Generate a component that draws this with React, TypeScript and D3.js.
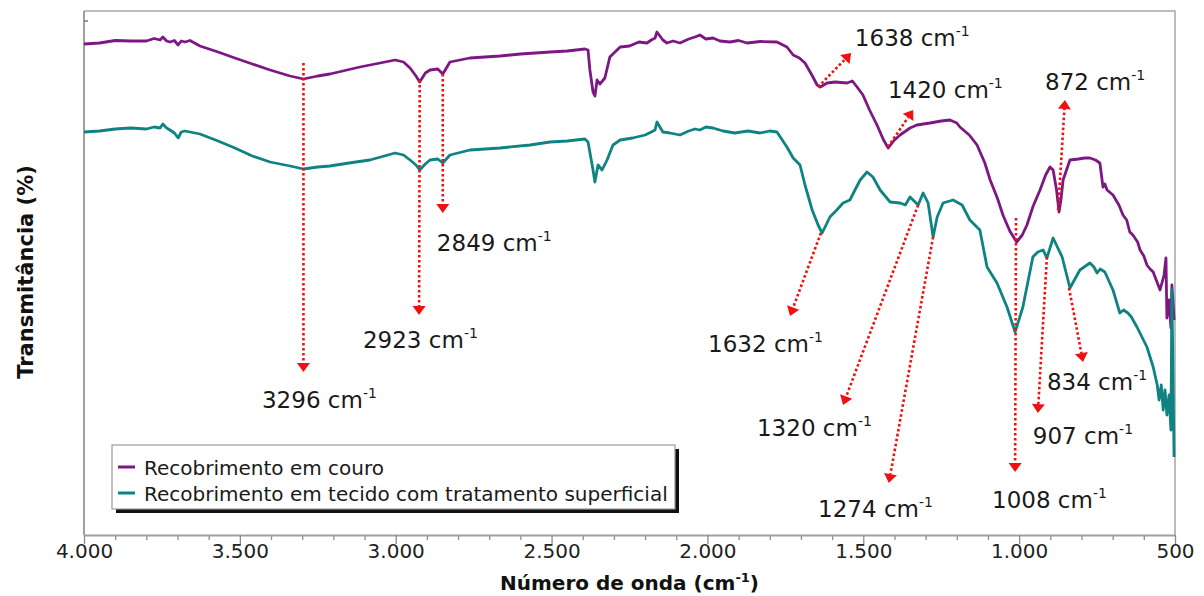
import React, { useRef, useEffect } from "react";
import * as d3 from "d3";

// FTIR spectra: [wavenumber (cm-1), transmittance]
const couroSpectrum: [number, number][] = [
  [4000, 98.2], [3950, 98.4], [3900, 98.9], [3850, 98.8], [3800, 98.8], [3775, 99.3],
  [3756, 99.0], [3747, 99.6], [3735, 98.8], [3724, 98.6], [3710, 98.9], [3698, 98.0],
  [3688, 98.8], [3676, 98.6], [3660, 98.9], [3628, 97.8], [3570, 96.6], [3516, 95.4],
  [3460, 94.2], [3403, 93.0], [3339, 91.8], [3296, 91.2], [3250, 91.8], [3211, 92.2],
  [3115, 93.6], [3050, 94.4], [3002, 95.0], [2975, 94.6], [2954, 93.4], [2935, 91.8],
  [2923, 90.6], [2905, 92.4], [2890, 93.0], [2865, 93.2], [2849, 92.2], [2826, 94.6],
  [2762, 95.4], [2665, 95.8], [2600, 96.2], [2505, 96.6], [2450, 96.8], [2393, 97.2],
  [2383, 97.0], [2377, 93.0], [2367, 88.6], [2361, 87.8], [2354, 91.0], [2345, 90.2],
  [2329, 91.4], [2313, 95.6], [2280, 97.6], [2250, 97.8], [2220, 98.6], [2194, 98.4],
  [2180, 99.0], [2168, 99.4], [2162, 100.6], [2143, 99.0], [2130, 98.4], [2110, 98.8],
  [2088, 98.4], [2060, 99.2], [2040, 99.6], [2024, 100.0], [2005, 99.2], [1982, 99.4],
  [1960, 98.8], [1928, 98.6], [1900, 98.9], [1873, 98.4], [1830, 98.7], [1777, 98.6],
  [1745, 97.6], [1725, 96.0], [1705, 95.4], [1687, 94.4], [1665, 92.0], [1648, 90.0],
  [1638, 89.6], [1616, 90.4], [1590, 90.6], [1552, 90.4], [1535, 90.8], [1520, 89.6],
  [1501, 88.0], [1480, 85.0], [1456, 82.0], [1435, 79.0], [1420, 77.4], [1400, 79.0],
  [1382, 80.0], [1350, 81.4], [1328, 82.0], [1286, 82.4], [1250, 82.8], [1222, 83.0],
  [1200, 82.4], [1190, 81.6], [1160, 80.0], [1135, 78.0], [1110, 74.4], [1093, 71.0],
  [1070, 67.4], [1052, 64.0], [1030, 60.8], [1008, 58.6], [990, 60.0], [975, 62.0],
  [955, 65.8], [933, 69.0], [915, 72.0], [901, 73.6], [891, 73.0], [880, 69.0],
  [872, 64.6], [866, 67.0], [859, 71.0], [837, 75.0], [810, 75.2], [790, 75.4],
  [773, 75.4], [755, 75.0], [741, 74.4], [731, 69.6], [725, 70.2], [718, 69.0],
  [699, 68.0], [680, 66.0], [667, 64.0], [655, 63.0], [645, 60.6], [635, 60.0],
  [620, 58.6], [612, 57.0], [600, 55.8], [590, 54.0], [580, 53.2], [570, 52.6],
  [548, 49.0], [535, 52.0], [529, 55.4], [526, 43.4], [519, 47.0], [513, 41.4],
  [510, 50.0], [503, 43.0],
];

const tecidoSpectrum: [number, number][] = [
  [4000, 80.6], [3950, 80.8], [3900, 81.2], [3850, 81.4], [3800, 81.2], [3775, 81.6],
  [3756, 81.4], [3747, 82.2], [3735, 81.4], [3724, 81.0], [3710, 80.4], [3698, 79.4],
  [3688, 80.6], [3676, 80.8], [3660, 80.6], [3628, 80.2], [3570, 78.8], [3516, 77.4],
  [3460, 75.8], [3403, 74.6], [3339, 73.8], [3296, 73.2], [3250, 73.6], [3211, 73.8],
  [3150, 74.4], [3083, 75.0], [3002, 76.4], [2975, 76.0], [2954, 75.0], [2935, 74.0],
  [2923, 73.0], [2905, 74.2], [2890, 75.0], [2865, 75.2], [2849, 74.4], [2826, 76.0],
  [2762, 77.0], [2665, 77.4], [2569, 78.0], [2505, 78.6], [2450, 78.8], [2393, 79.2],
  [2383, 78.6], [2367, 73.0], [2361, 70.6], [2351, 74.0], [2338, 73.0], [2322, 75.0],
  [2303, 78.0], [2280, 79.0], [2240, 79.4], [2200, 80.0], [2180, 80.6], [2168, 81.0],
  [2162, 82.6], [2143, 80.6], [2120, 80.4], [2088, 80.0], [2060, 80.8], [2040, 81.2],
  [2024, 81.0], [2005, 81.6], [1982, 81.4], [1950, 80.8], [1912, 80.4], [1870, 80.8],
  [1831, 80.4], [1800, 80.8], [1777, 80.6], [1745, 77.6], [1725, 75.4], [1703, 74.0],
  [1687, 70.0], [1664, 65.0], [1645, 62.0], [1632, 60.4], [1607, 63.6], [1585, 65.0],
  [1565, 66.4], [1543, 67.0], [1525, 69.2], [1510, 71.0], [1488, 72.6], [1469, 71.6],
  [1446, 69.0], [1414, 66.6], [1382, 66.4], [1365, 66.0], [1350, 67.6], [1324, 66.0],
  [1308, 68.4], [1292, 66.4], [1276, 59.6], [1263, 63.6], [1244, 66.4], [1212, 67.0],
  [1183, 66.0], [1158, 63.0], [1126, 61.0], [1103, 53.6], [1071, 50.4], [1039, 45.6],
  [1013, 40.6], [988, 45.6], [956, 55.6], [940, 56.6], [923, 57.0], [911, 55.4],
  [891, 59.4], [862, 55.6], [837, 49.4], [805, 53.0], [773, 54.4], [760, 53.6],
  [750, 52.4], [740, 53.2], [725, 52.6], [699, 49.0], [677, 44.4], [665, 45.0],
  [651, 44.4], [640, 43.6], [622, 41.6], [590, 37.6], [570, 33.6], [557, 30.0],
  [551, 27.0], [544, 30.0], [538, 25.0], [532, 29.0], [526, 24.0], [519, 28.0],
  [513, 21.0], [510, 49.0], [503, 15.6],
];

const seriesNames = [
  "Recobrimento em couro",
  "Recobrimento em tecido com tratamento superficial",
];
const seriesColors = ["#7d1784", "#0f8282"];

const xTickValues = [4000, 3500, 3000, 2500, 2000, 1500, 1000, 500];

// peak annotations: label value, arrow start / tip and label anchor in data units
const peakLabels = ["3296", "2923", "2849", "1638", "1420", "872", "1632", "1320", "1274", "1008", "907", "834"];
const arrowStart: [number, number][] = [
  [3296, 94.4], [2923, 91.0], [2849, 92.2], [1645, 89.6], [1421, 77.6], [875, 65.0],
  [1636, 60.4], [1324, 66.0], [1276, 59.6], [1010, 63.4], [911, 55.6], [840, 49.4],
];
const arrowTip: [number, number][] = [
  [3296, 32.6], [2925, 44.0], [2849, 64.4], [1539, 96.4], [1340, 85.0], [853, 87.0],
  [1735, 43.8], [1565, 26.0], [1418, 10.4], [1013, 12.6], [940, 24.4], [795, 34.6],
];
const labelAnchor: [number, number][] = [
  [3429, 25.4], [3105, 37.4], [2868, 56.8], [1527, 97.8], [1421, 87.4], [917, 89.0],
  [1998, 36.6], [1841, 19.8], [1645, 3.6], [1087, 5.4], [956, 18.2], [911, 29.0],
];

export default function App() {
  const svgRef = useRef<SVGSVGElement>(null);

  useEffect(() => {
    const width = 1204;
    const height = 596;
    const left = 84, right = 1175, top = 11, bottom = 535;
    const font = "'DejaVu Sans', Verdana, sans-serif";

    const svg = d3.select(svgRef.current)
      .attr("width", width)
      .attr("height", height)
      .attr("viewBox", [0, 0, width, height]);

    svg.selectAll("*").remove();

    svg.append("rect").attr("width", width).attr("height", height).attr("fill", "#fff");

    const x = d3.scaleLinear().domain([4000, 500]).range([left, right]);
    const y = d3.scaleLinear().domain([0, 104.8]).range([bottom, top]);

    // frame
    svg.append("path")
      .attr("d", `M${left},${top}H${right}V${bottom}`)
      .attr("fill", "none")
      .attr("stroke", "#a6a6a6")
      .attr("stroke-width", 1.5);
    svg.append("line")
      .attr("x1", left).attr("x2", left).attr("y1", top).attr("y2", bottom)
      .attr("stroke", "#a0a0a0").attr("stroke-width", 2);
    svg.append("line")
      .attr("x1", left).attr("x2", left + 4).attr("y1", top + 10).attr("y2", top + 10)
      .attr("stroke", "#777").attr("stroke-width", 1.5);

    // x axis
    const locale = d3.formatLocale({ decimal: ",", thousands: ".", grouping: [3], currency: ["", ""] });
    const fmt = locale.format(",");
    const minor = d3.range(500, 4001, 100).filter(v => !xTickValues.includes(v));
    svg.append("g")
      .attr("transform", `translate(0,${bottom})`)
      .call(d3.axisBottom(x).tickValues(minor).tickSize(5).tickFormat(() => ""))
      .call(g => g.select(".domain").remove())
      .call(g => g.selectAll("line").attr("stroke", "#8c8c8c").attr("stroke-width", 1.3));
    const xAxis = svg.append("g")
      .attr("transform", `translate(0,${bottom})`)
      .call(d3.axisBottom(x).tickValues(xTickValues).tickSize(9).tickSizeOuter(0).tickFormat(d => fmt(d as number)));
    xAxis.select(".domain").attr("stroke", "#a0a0a0").attr("stroke-width", 2);
    xAxis.selectAll("line").attr("stroke", "#8c8c8c").attr("stroke-width", 1.3);
    xAxis.selectAll("text")
      .attr("font-family", font)
      .attr("font-size", 20)
      .attr("fill", "#222")
      .attr("dy", "0.55em");

    // axis titles
    const xt = svg.append("text")
      .attr("x", (left + right) / 2)
      .attr("y", 590)
      .attr("text-anchor", "middle")
      .attr("font-family", font)
      .attr("font-weight", "bold")
      .attr("font-size", 20)
      .attr("fill", "#111");
    xt.append("tspan").text("Número de onda (cm");
    xt.append("tspan").attr("dy", -8).attr("font-size", 13).text("-1");
    xt.append("tspan").attr("dy", 8).text(")");

    svg.append("text")
      .attr("transform", `translate(33,${272}) rotate(-90)`)
      .attr("text-anchor", "middle")
      .attr("font-family", font)
      .attr("font-weight", "bold")
      .attr("font-size", 21)
      .attr("fill", "#111")
      .text("Transmitância (%)");

    // spectra
    const line = d3.line<[number, number]>().x(d => x(d[0])).y(d => y(d[1]));
    [couroSpectrum, tecidoSpectrum].forEach((s, i) => {
      svg.append("path")
        .datum(s)
        .attr("d", line)
        .attr("fill", "none")
        .attr("stroke", seriesColors[i])
        .attr("stroke-width", 2.8)
        .attr("stroke-linejoin", "round");
    });

    // annotations
    const ann = svg.append("g");
    peakLabels.forEach((lab, i) => {
      const x0 = x(arrowStart[i][0]), y0 = y(arrowStart[i][1]);
      const x1 = x(arrowTip[i][0]), y1 = y(arrowTip[i][1]);
      const ang = Math.atan2(y1 - y0, x1 - x0);
      const hl = 9, hw = 6.5;
      const bx = x1 - hl * Math.cos(ang), by = y1 - hl * Math.sin(ang);
      ann.append("line")
        .attr("x1", x0).attr("y1", y0).attr("x2", bx).attr("y2", by)
        .attr("stroke", "#f01010")
        .attr("stroke-width", 2.6)
        .attr("stroke-dasharray", "2.6 2.4");
      const px = -Math.sin(ang), py = Math.cos(ang);
      ann.append("path")
        .attr("d", `M${x1},${y1}L${bx + px * hw},${by + py * hw}L${bx - px * hw},${by - py * hw}Z`)
        .attr("fill", "#f01010");
      const t = ann.append("text")
        .attr("x", x(labelAnchor[i][0]))
        .attr("y", y(labelAnchor[i][1]))
        .attr("font-family", font)
        .attr("font-size", 23)
        .attr("fill", "#1a1a1a");
      t.append("tspan").text(`${lab} cm`);
      t.append("tspan").attr("dy", -10).attr("font-size", 14).text("-1");
    });

    // legend
    const lg = svg.append("g");
    lg.append("rect").attr("x", 116).attr("y", 449).attr("width", 563).attr("height", 64).attr("fill", "#111");
    lg.append("rect").attr("x", 112).attr("y", 445).attr("width", 563).attr("height", 64)
      .attr("fill", "#fff").attr("stroke", "#9a9a9a").attr("stroke-width", 1.2);
    seriesNames.forEach((name, i) => {
      const yy = 467 + i * 26;
      lg.append("line").attr("x1", 118).attr("x2", 135).attr("y1", yy).attr("y2", yy)
        .attr("stroke", seriesColors[i]).attr("stroke-width", 3);
      lg.append("text")
        .attr("x", 144).attr("y", yy + 8)
        .attr("font-family", font)
        .attr("font-size", 20)
        .attr("fill", "#1a1a1a")
        .text(name);
    });
  }, []);

  return <svg ref={svgRef} style={{ position: "absolute", left: 0, top: 0 }}></svg>;
}
